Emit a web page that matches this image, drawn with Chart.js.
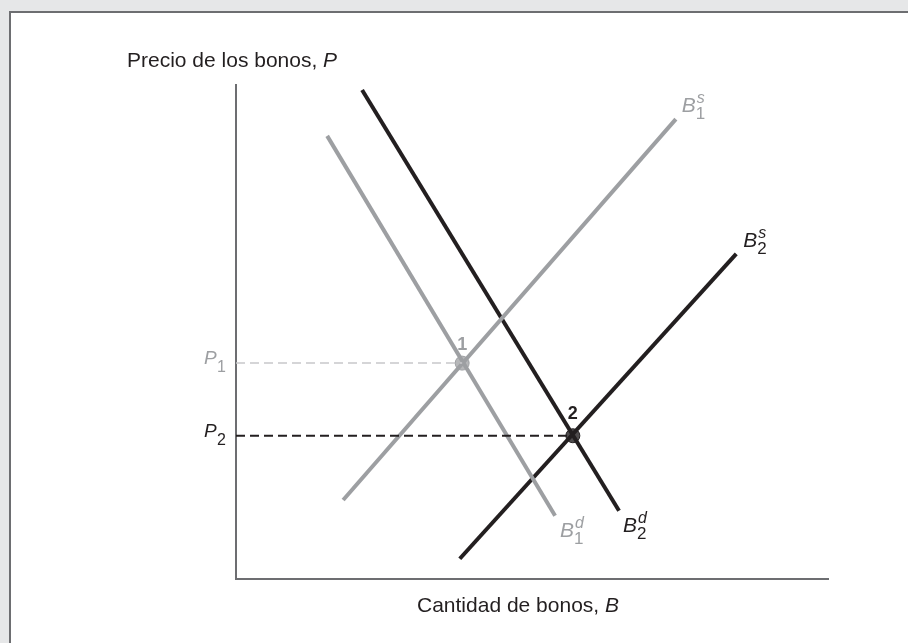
<!DOCTYPE html>
<html>
<head>
<meta charset="utf-8">
<script src="https://cdn.jsdelivr.net/npm/chart.js@4/dist/chart.umd.min.js"></script>
<style>
    body { margin: 0; background: #e6e7e8; width: 908px; height: 643px; overflow: hidden; }
    .panel { position: absolute; left: 9px; top: 11px; width: 899px; height: 632px; background: #fff;
             border-left: 2px solid #6d6e71; border-top: 2px solid #6d6e71; }
    #chart { position: absolute; left: 0; top: 0; }
</style>
</head>
<body>
<div class="panel"></div>
<canvas id="chart" width="908" height="643"></canvas>
<script>
// curve end points (quantity, price)
const b1sQ = [1.81, 7.43];
const b1sP = [1.60, 9.31];
const b1dQ = [1.54, 5.39];
const b1dP = [8.97, 1.28];
const b2dQ = [2.13, 6.47];
const b2dP = [9.90, 1.38];
const b2sQ = [3.78, 8.45];
const b2sP = [0.41, 6.58];

// equilibria 1 and 2
const eqQ = [3.82, 5.69];
const eqP = [4.37, 2.90];
const eqLabels = ['1', '2'];

const priceLabels = ['1', '2'];   // P1, P2 subscripts
const yTitle = 'Precio de los bonos, ';
const yTitleVar = 'P';
const xTitle = 'Cantidad de bonos, ';
const xTitleVar = 'B';

const GREY = '#9d9fa2';
const BLACK = '#231f20';
const FONT = '"Liberation Sans", Arial, Helvetica, sans-serif';

function seg(qs, ps) {
    return qs.map((q, i) => ({ x: q, y: ps[i] }));
}

function curve(qs, ps, color) {
    return {
        data: seg(qs, ps),
        showLine: true,
        borderColor: color,
        borderWidth: 4,
        borderCapStyle: 'butt',
        pointRadius: 0
    };
}

function guide(i, color, width) {
    return {
        data: [{ x: 0, y: eqP[i] }, { x: eqQ[i], y: eqP[i] }],
        showLine: true,
        borderColor: color,
        borderWidth: width,
        borderDash: [9, 5],
        pointRadius: 0
    };
}

function eqPoint(i, fill, border) {
    return {
        data: [{ x: eqQ[i], y: eqP[i] }],
        pointRadius: 7,
        pointBackgroundColor: fill,
        pointBorderColor: border,
        pointBorderWidth: 1
    };
}

// B with superscript and subscript
function drawBLabel(ctx, x, y, sup, sub, color) {
    ctx.fillStyle = color;
    ctx.textAlign = 'left';
    ctx.textBaseline = 'alphabetic';
    ctx.font = 'italic 21px ' + FONT;
    ctx.fillText('B', x, y);
    const w = ctx.measureText('B').width;
    ctx.font = 'italic 16px ' + FONT;
    ctx.fillText(sup, x + w + 1, y - 9);
    ctx.font = '17px ' + FONT;
    ctx.fillText(sub, x + w, y + 7);
}

const labelPlugin = {
    id: 'labels',
    afterDatasetsDraw(chart) {
        const ctx = chart.ctx;
        const xs = chart.scales.x;
        const ys = chart.scales.y;
        const area = chart.chartArea;
        const px = v => xs.getPixelForValue(v);
        const py = v => ys.getPixelForValue(v);
        ctx.save();

        // curve labels
        drawBLabel(ctx, px(b1sQ[1]) + 6, py(b1sP[1]) - 7, 's', '1', GREY);
        drawBLabel(ctx, px(b2sQ[1]) + 7, py(b2sP[1]) - 7, 's', '2', BLACK);
        drawBLabel(ctx, px(b1dQ[1]) + 5, py(b1dP[1]) + 21, 'd', '1', GREY);
        drawBLabel(ctx, px(b2dQ[1]) + 4, py(b2dP[1]) + 21, 'd', '2', BLACK);

        // price labels on the axis
        eqP.forEach((p, i) => {
            const c = i === 0 ? GREY : BLACK;
            ctx.fillStyle = c;
            ctx.textAlign = 'left';
            ctx.font = 'italic 19px ' + FONT;
            ctx.fillText('P', area.left - 32, py(p) + 1);
            ctx.font = '16px ' + FONT;
            ctx.fillText(priceLabels[i], area.left - 19, py(p) + 9);
        });

        // equilibrium numbers
        ctx.textAlign = 'center';
        ctx.font = 'bold 18px ' + FONT;
        eqQ.forEach((q, i) => {
            ctx.fillStyle = i === 0 ? GREY : BLACK;
            ctx.fillText(eqLabels[i], px(q), py(eqP[i]) - (i === 0 ? 13 : 17));
        });

        // axis titles
        ctx.fillStyle = BLACK;
        ctx.textAlign = 'left';
        ctx.font = '21px ' + FONT;
        ctx.fillText(yTitle, area.left - 109, area.top - 18);
        let w = ctx.measureText(yTitle).width;
        ctx.font = 'italic 21px ' + FONT;
        ctx.fillText(yTitleVar, area.left - 109 + w, area.top - 18);

        ctx.font = '21px ' + FONT;
        ctx.fillText(xTitle, area.left + 181, area.bottom + 33);
        w = ctx.measureText(xTitle).width;
        ctx.font = 'italic 21px ' + FONT;
        ctx.fillText(xTitleVar, area.left + 181 + w, area.bottom + 33);

        ctx.restore();
    }
};

const axis = {
    type: 'linear',
    min: 0,
    max: 10,
    grid: { display: false },
    ticks: { display: false },
    border: { display: true, color: '#6d6e71', width: 2 }
};

new Chart(document.getElementById('chart'), {
    type: 'scatter',
    data: {
        datasets: [
            guide(0, '#c7c8ca', 1.5),
            guide(1, BLACK, 2),
            curve(b1sQ, b1sP, GREY),
            curve(b1dQ, b1dP, GREY),
            curve(b2dQ, b2dP, BLACK),
            curve(b2sQ, b2sP, BLACK),
            eqPoint(0, 'rgba(157,159,162,0.75)', GREY),
            eqPoint(1, 'rgba(35,31,32,0.8)', BLACK)
        ]
    },
    options: {
        responsive: false,
        animation: false,
        layout: { padding: { left: 228, right: 80, top: 85, bottom: 56 } },
        plugins: { legend: { display: false }, tooltip: { enabled: false } },
        scales: { x: axis, y: axis }
    },
    plugins: [labelPlugin]
});
</script>
</body>
</html>
